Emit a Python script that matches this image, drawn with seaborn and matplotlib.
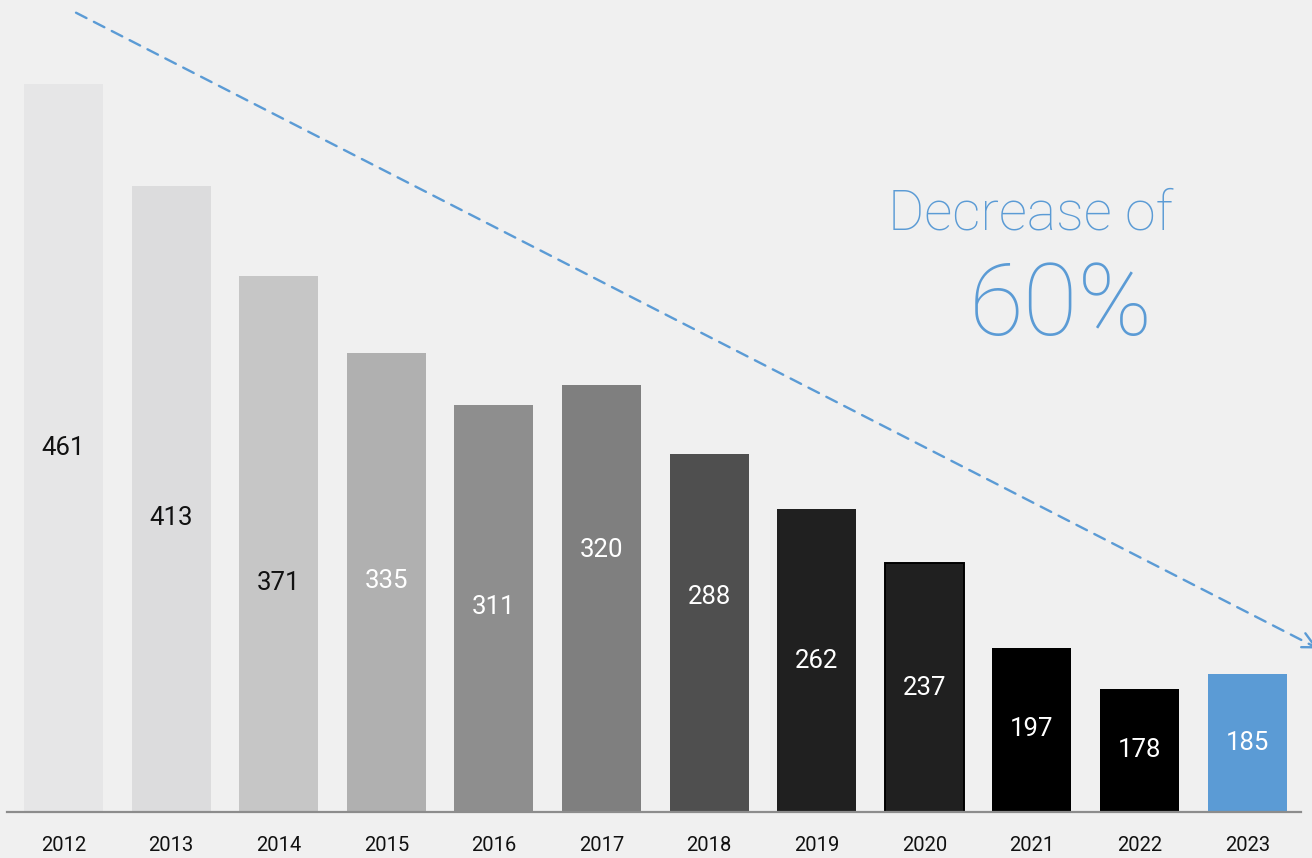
import matplotlib
matplotlib.use("Agg")
import matplotlib.pyplot as plt
import seaborn as sns
import pandas as pd

# Annual counts
years = ["2012", "2013", "2014", "2015", "2016", "2017",
         "2018", "2019", "2020", "2021", "2022", "2023"]
values = [461, 413, 371, 335, 311, 320, 288, 262, 237, 197, 178, 185]
bar_colors = ["#e6e6e7", "#dcdcdd", "#c6c6c6", "#b0b0b0", "#8e8e8e", "#7f7f7f",
              "#4f4f4f", "#202020", "#202020", "#000000", "#000000", "#5b9bd5"]
label_colors = ["#111111", "#111111", "#111111", "#ffffff", "#ffffff", "#ffffff",
                "#ffffff", "#ffffff", "#ffffff", "#ffffff", "#ffffff", "#ffffff"]
# Where each value label sits, as a share of the visible bar height
label_anchor = [0.50, 0.47, 0.427, 0.503, 0.504, 0.614,
                0.60, 0.50, 0.496, 0.506, 0.504, 0.50]
headline = "Decrease of"
headline_value = "60%"

BG = "#f0f0f0"
ACCENT = "#5b9bd5"
Y_MIN, Y_MAX = 120.4, 500.2

sns.set_theme(style="white")
plt.rcParams["font.family"] = ["Roboto", "DejaVu Sans"]

df = pd.DataFrame({"year": years, "value": values})

fig = plt.figure(figsize=(13.12, 8.58), dpi=100, facecolor=BG)
ax = fig.add_axes([7 / 1312, 46 / 858, 1294 / 1312, 812 / 858])
ax.set_facecolor(BG)

sns.barplot(data=df, x="year", y="value", hue="year", palette=bar_colors,
            dodge=False, legend=False, width=0.734, saturation=1, ax=ax)

for i, container in enumerate(ax.containers):
    for patch in container:
        patch.set_linewidth(0)
        if years[i] == "2020":
            patch.set_edgecolor("#000000")
            patch.set_linewidth(1.4)

ax.set_xlim(-0.525, 11.5)
ax.set_ylim(Y_MIN, Y_MAX)

# Value labels inside each bar
for i, (v, c, f) in enumerate(zip(values, label_colors, label_anchor)):
    ax.text(i, Y_MIN + (v - Y_MIN) * f, str(v), ha="center", va="center",
            fontsize=18.5, color=c)

for side in ["top", "left", "right"]:
    ax.spines[side].set_visible(False)
ax.spines["bottom"].set_color("#8c8c8c")
ax.spines["bottom"].set_linewidth(1.6)
ax.set_yticks([])
ax.set_xlabel("")
ax.set_ylabel("")
ax.tick_params(axis="x", length=0, pad=17, labelsize=14.5, labelcolor="#111111")

# Dashed trend arrow
ax.annotate("", xy=(1318 / 1312, 1 - 648.5 / 858), xycoords="figure fraction",
            xytext=(76 / 1312, 1 - 12.7 / 858), textcoords="figure fraction",
            arrowprops=dict(arrowstyle="->", color=ACCENT, lw=1.7,
                            linestyle=(0, (5, 3.5)), mutation_scale=28,
                            shrinkA=0, shrinkB=0),
            annotation_clip=False)

fig.text(1030.5 / 1312, 1 - 214 / 858, headline, ha="center", va="center",
         fontsize=40, color=ACCENT, family=["Roboto", "DejaVu Sans"], weight="light")
fig.text(1060.5 / 1312, 1 - 307 / 858, headline_value, ha="center", va="center",
         fontsize=72, color=ACCENT, family=["Roboto", "DejaVu Sans"], weight="light")

fig.savefig("out.png", dpi=100, facecolor=BG)
